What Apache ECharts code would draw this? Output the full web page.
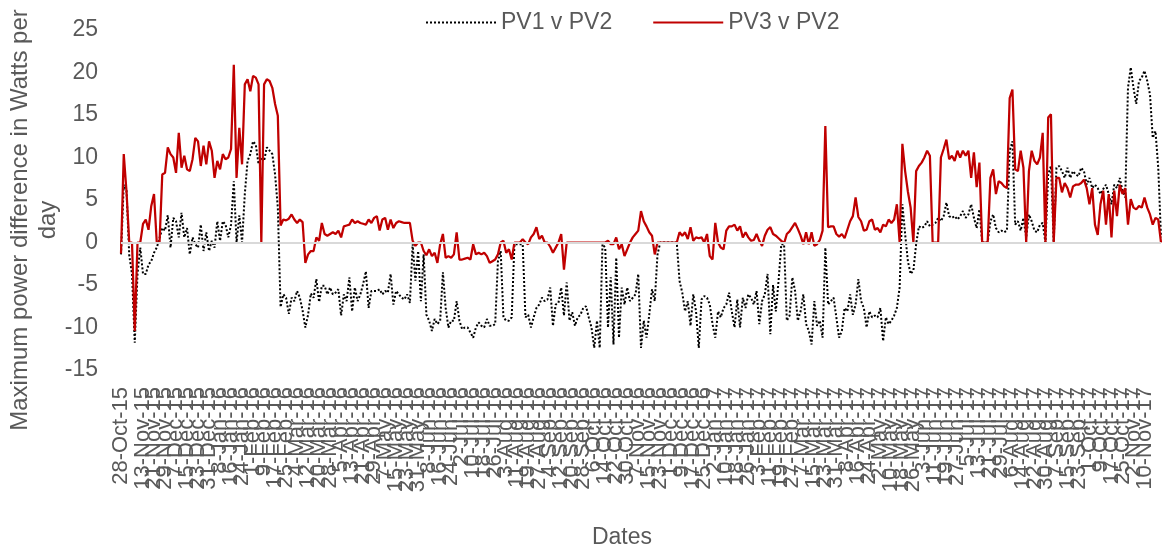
<!DOCTYPE html>
<html>
<head>
<meta charset="utf-8">
<script src="https://cdn.jsdelivr.net/npm/echarts@6/dist/echarts.min.js"></script>
<style>
html,body{margin:0;padding:0;background:#fff;}
#chart{width:1163px;height:550px;}
</style>
</head>
<body>
<div id="chart"></div>
<script>
// Dates: one point every 2 days starting 28-Oct-15
const startDate = [2015, 9, 28];
const stepDays = 2;
const monthNames = ['Jan','Feb','Mar','Apr','May','Jun','Jul','Aug','Sep','Oct','Nov','Dec'];

// PV1 v PV2 (dotted black)
const pv1vpv2 = [
-1.4, 6.8, 6.1, -1.5, -3.7, -11.8, -3.7, -0.6, -3.7, -3.7,
-2.6, -2.2, -1.2, -0.6, 0.5, 1.7, 1.4, 3.2, -0.6, 2.9,
2.5, 0.6, 3.5, 0.6, 1.7, -1.4, 0.6, -0.2, -0.6, 2.1,
-1.0, 1.2, -1.0, 0.2, -0.6, 2.5, 0.2, 2.5, 2.1, 0.6,
2.1, 7.2, 0, 3.2, 0, 5.7, 9.6, 10.4, 11.9, 11.5,
9.2, 10.0, 9.6, 11.2, 10.8, 10.4, 8.0, 4.1, -7.6, -6.1,
-6.5, -8.4, -6.5, -6.9, -5.7, -6.5, -8.0, -10.0, -8.5, -6.0,
-6.5, -4.3, -7.0, -5.1, -5.1, -6.1, -5.3, -6.1, -5.9, -5.5,
-8.6, -6.1, -6.9, -4.1, -8.1, -5.3, -6.9, -6.1, -4.9, -3.4,
-7.7, -5.7, -5.7, -5.7, -5.5, -6.1, -5.7, -5.9, -3.7, -7.3,
-5.7, -6.1, -6.5, -6.7, -6.1, -7.1, -0.2, -4.5, -1.0, -6.9,
-1.4, -8.5, -9.2, -10.4, -9.0, -9.6, -9.2, -3.5, -7.7, -10.0,
-9.2, -9.2, -6.9, -9.2, -10.2, -10.0, -10.0, -10.6, -11.2, -10.0,
-9.4, -9.8, -10.0, -9.0, -9.8, -9.8, -9.6, -2.2, -1.0, -8.8,
-9.2, -9.2, -8.8, -0.2, -0.2, -0.2, -0.2, -8.8, -8.5, -10.0,
-8.8, -7.7, -7.3, -6.5, -6.9, -6.7, -5.3, -9.8, -7.3, -7.1,
-5.3, -8.6, -4.7, -9.2, -8.2, -9.8, -8.8, -8.5, -7.7, -7.5,
-8.8, -10.0, -12.4, -9.2, -12.4, -0.2, -0.6, -10.0, -4.1, -12.0,
-1.8, -11.2, -5.3, -7.3, -5.3, -6.9, -6.5, -6.1, -3.7, -12.4,
-9.2, -11.2, -8.5, -5.5, -6.9, -1.4, 0, 0, 0, 0,
0, 0, 0, -4.5, -5.9, -8.1, -6.9, -9.8, -6.1, -8.1,
-12.4, -6.7, -6.3, -6.5, -7.3, -9.6, -11.2, -8.1, -8.8, -7.7,
-7.3, -5.9, -8.1, -10.0, -6.7, -10.0, -6.5, -7.7, -6.1, -6.5,
-7.3, -5.7, -9.6, -6.9, -6.1, -3.7, -10.8, -5.0, -8.1, -4.5,
-0.2, -0.2, -9.2, -8.6, -4.1, -5.7, -9.2, -8.1, -6.1, -9.6,
-10.4, -12.0, -6.9, -9.8, -9.2, -11.2, -0.6, -7.3, -6.9, -6.5,
-8.8, -11.2, -10.4, -7.7, -8.1, -6.1, -8.5, -7.3, -4.3, -6.9,
-7.7, -10.0, -8.1, -8.8, -8.6, -8.8, -7.7, -11.6, -8.8, -9.6,
-9.2, -8.6, -7.7, -5.3, 4.5, 1.0, -2.2, -3.7, -3.3, -0.2,
1.9, 1.7, 1.9, 2.5, 1.9, 2.1, 2.3, 2.9, 2.5, 3.1,
4.7, 3.1, 2.9, 3.1, 2.7, 3.1, 3.7, 2.9, 3.3, 4.5,
2.9, 1.7, 3.9, 0, 0, 0, 2.5, 3.3, 1.7, 1.2,
1.4, 1.2, 1.4, 10.8, 11.9, 2.1, 2.5, 1.4, 2.9, 0.6,
3.3, 2.5, 1.4, 1.2, 2.1, 2.3, 0, 8.0, 9.0, 0,
8.8, 9.0, 8.4, 7.6, 8.8, 7.6, 8.4, 8.0, 7.8, 8.8,
8.4, 6.8, 7.6, 6.4, 6.8, 6.4, 5.7, 6.3, 6.8, 5.7,
4.5, 6.8, 6.4, 7.6, 6.1, 5.3, 18.2, 20.6, 18.2, 16.3,
19.0, 19.4, 20.2, 19.0, 17.4, 12.3, 13.1, 8.8, 0.6
];

// PV3 v PV2 (solid red)
const pv3vpv2 = [
-1.3, 10.4, 6.0, 0, 0, -10.4, 0, 0, 2.2, 2.7,
1.5, 4.3, 5.7, 0, 0, 8.0, 8.2, 11.2, 10.4, 10.0,
8.2, 12.9, 8.8, 10.2, 8.6, 8.4, 9.8, 12.3, 11.9, 9.0,
11.4, 9.2, 11.9, 10.8, 7.6, 9.6, 8.6, 10.4, 9.8, 10.0,
11.0, 20.9, 7.6, 13.5, 9.2, 18.6, 19.2, 17.8, 19.6, 19.4,
18.6, 0, 18.6, 19.2, 19.0, 18.2, 16.3, 14.9, 2.0, 2.7,
2.6, 2.8, 3.3, 2.7, 2.3, 2.7, 2.4, -2.4, -1.4, -1.0,
-1.0, 0.6, 0.2, 2.3, 1.0, 0.8, 1.0, 1.2, 1.0, 1.4,
0.6, 1.9, 2.0, 2.1, 2.7, 2.3, 2.5, 2.3, 2.2, 2.1,
2.7, 2.3, 2.9, 3.1, 1.4, 2.7, 2.9, 1.5, 2.7, 1.7,
2.3, 2.5, 2.4, 2.3, 2.3, 2.3, 0.2, -0.4, 0, 0,
-1.0, -1.5, -0.8, -1.6, -1.2, -2.4, -0.2, 1.0, -1.8, -1.6,
-1.8, -1.4, 1.2, -2.0, -2.0, -1.9, -1.8, -2.0, -0.2, -1.4,
-1.2, -1.4, -1.2, -1.6, -2.4, -2.2, -2.0, -1.4, 0, 0.2,
-1.2, -0.8, -2.0, 0, 0, 0, 0.4, 0, -0.2, 0.6,
1.0, 1.8, 0.4, 0.8, 0, 0, -0.5, -1.2, -0.6, 0,
1.0, -3.2, 0, 0, 0, 0, 0, 0, 0, 0,
0, 0, 0, 0, 0, 0, 0, 0.2, -0.2, -0.2,
0.6, -0.8, -0.2, -1.6, -0.8, 0, 0.6, 1.0, 1.4, 3.7,
2.5, 1.9, 1.2, 0.8, -1.4, 0, 0, 0, 0, 0,
0, 0, 0, 1.2, 0.8, 1.2, 0.4, 1.8, 0.2, 0.6,
0.5, 0.6, 0, 1.0, -1.6, -2.0, 2.3, 0, -0.6, -0.8,
1.4, 1.9, 1.9, 2.1, 1.4, 1.9, 0.6, 1.2, 0.6, 0.2,
0.3, 1.0, 0.2, -0.4, 0.8, 1.5, 1.8, 1.0, 0.8, 0.5,
0.2, -0.1, 1.0, 1.3, 1.8, 2.3, 1.6, 0.8, -0.2, 1.2,
-0.2, 1.2, -0.4, -0.2, 0.3, 1.4, 13.7, 1.8, 1.9, 1.9,
1.0, 0.7, 1.0, 0.5, 1.5, 2.5, 3.1, 5.3, 3.0, 2.5,
1.4, 1.5, 2.5, 2.7, 1.5, 1.7, 1.2, 2.1, 1.9, 2.7,
2.3, 2.7, 4.5, 0, 11.6, 8.4, 6.0, 4.1, 0, 8.4,
9.0, 9.4, 10.0, 10.8, 10.2, 0, 0, 0, 10.0, 11.0,
12.1, 9.8, 10.2, 9.6, 10.8, 10.0, 10.8, 10.2, 10.8, 7.6,
10.6, 6.5, 9.4, 0, 0, 0, 7.6, 8.6, 5.7, 7.2,
7.0, 6.6, 6.4, 17.0, 18.0, 8.6, 8.4, 10.8, 8.8, 0,
8.4, 10.8, 9.6, 9.2, 10.0, 12.9, 0, 14.7, 15.1, 0,
7.6, 7.6, 5.9, 7.0, 6.4, 5.3, 6.6, 6.8, 6.8, 7.0,
7.4, 6.4, 4.5, 6.4, 2.1, 0.9, 4.5, 6.1, 2.1, 5.7,
0.6, 6.1, 3.1, 6.8, 5.7, 6.4, 2.1, 5.1, 4.1, 3.9,
4.3, 4.1, 5.3, 4.1, 3.3, 2.1, 2.9, 2.7, 0
];

const yTicks = { min: -15, max: 25, interval: 5 };
const seriesNames = ['PV1 v PV2', 'PV3 v PV2'];
const yTitle = 'Maximum power difference in Watts per\nday';
const xTitle = 'Dates';

const categories = [];
const n = Math.max(pv1vpv2.length, pv3vpv2.length);
for (let i = 0; i < n; i++) {
  const d = new Date(Date.UTC(startDate[0], startDate[1], startDate[2] + stepDays * i));
  const yy = String(d.getUTCFullYear() % 100).padStart(2, '0');
  categories.push(d.getUTCDate() + '-' + monthNames[d.getUTCMonth()] + '-' + yy);
}

const FONT = '"Liberation Sans", Arial, sans-serif';
const TXT = '#595959';

const chart = echarts.init(document.getElementById('chart'), null, { renderer: 'canvas' });
chart.setOption({
  animation: false,
  backgroundColor: '#fff',
  textStyle: { fontFamily: FONT },
  grid: { left: 121, right: 2, top: 30, bottom: 180, containLabel: false },
  legend: {
    top: 6, left: 420,
    itemWidth: 70, itemHeight: 14, itemGap: 40,
    itemStyle: { opacity: 0 },
    textStyle: { fontSize: 23, color: TXT, fontFamily: FONT },
    data: seriesNames
  },
  xAxis: {
    type: 'category',
    data: categories,
    boundaryGap: false,
    axisLine: { show: false },
    axisTick: { show: false },
    axisLabel: {
      interval: 3, rotate: 90, fontSize: 22, color: TXT, margin: 17, fontFamily: FONT,
      showMinLabel: true, hideOverlap: false
    },
    splitLine: { show: false }
  },
  yAxis: {
    type: 'value',
    min: yTicks.min, max: yTicks.max, interval: yTicks.interval,
    axisLine: { show: false },
    axisTick: { show: false },
    splitLine: { show: false },
    axisLabel: { fontSize: 23, color: TXT, margin: 23, fontFamily: FONT }
  },
  graphic: [
    {
      type: 'text', x: 34, y: 220, rotation: Math.PI / 2,
      style: { text: yTitle, font: '24px ' + FONT, fill: TXT, align: 'center', verticalAlign: 'middle', lineHeight: 28 }
    },
    {
      type: 'text', x: 622, y: 538,
      style: { text: xTitle, font: '23px ' + FONT, fill: TXT, align: 'center', verticalAlign: 'middle' }
    }
  ],
  series: [
    {
      name: seriesNames[0], type: 'line', data: pv1vpv2,
      symbol: 'none', showSymbol: false,
      lineStyle: { color: '#000', width: 2, type: [2, 2] },
      itemStyle: { color: '#000' },
      z: 2,
      markLine: {
        silent: true, symbol: ['none', 'none'], label: { show: false },
        lineStyle: { color: '#d9d9d9', width: 2, type: 'solid' },
        data: [{ yAxis: 0 }],
        animation: false
      }
    },
    {
      name: seriesNames[1], type: 'line', data: pv3vpv2,
      symbol: 'none', showSymbol: false,
      lineStyle: { color: '#C00000', width: 2.25 },
      itemStyle: { color: '#C00000' },
      z: 3
    }
  ]
});
</script>
</body>
</html>
